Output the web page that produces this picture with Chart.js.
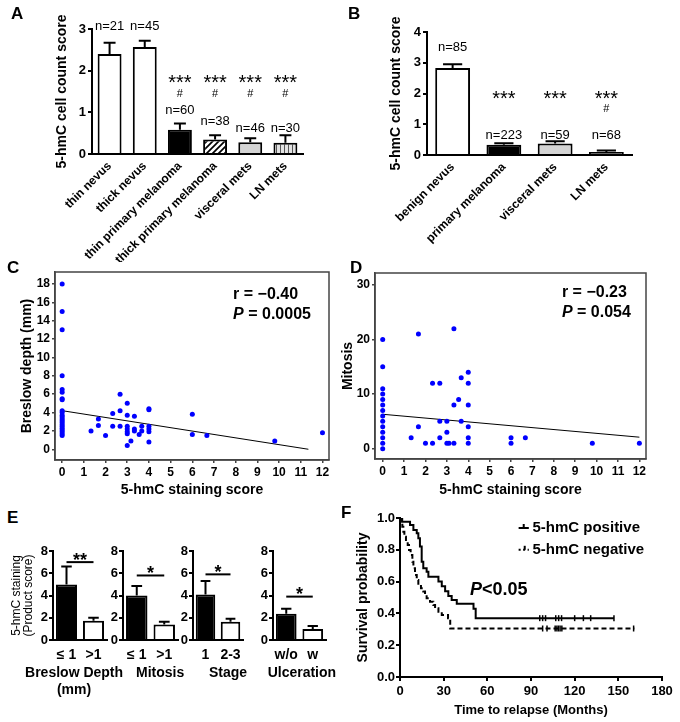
<!DOCTYPE html>
<html>
<head>
<meta charset="utf-8">
<script src="https://cdn.jsdelivr.net/npm/chart.js@4"></script>
<style>
  body { margin: 0; background: #fff; }
  #fig { position: relative; width: 680px; height: 722px; overflow: hidden; font-family: 'Liberation Sans', Arial, sans-serif; }
  .box { position: absolute; }
  .tag { position: absolute; z-index: 5; font-weight: bold; font-size: 17px; line-height: 1; }
</style>
</head>
<body>
<div id="fig">
  <div class="tag" style="left:11px;top:5px">A</div>
  <div class="tag" style="left:348px;top:5px">B</div>
  <div class="tag" style="left:7px;top:259px">C</div>
  <div class="tag" style="left:350px;top:259px">D</div>
  <div class="tag" style="left:7px;top:509px">E</div>
  <div class="tag" style="left:341px;top:504px">F</div>
</div>
<script>
// ─── Data ───────────────────────────────────────────────────────────────────

// A: cell count score by lesion type
const aLabels = ['thin nevus', 'thick nevus', 'thin primary melanoma', 'thick primary melanoma', 'visceral mets', 'LN mets'];
const aMeans  = [2.40, 2.57, 0.58, 0.35, 0.28, 0.27];
const aErrTop = [2.67, 2.72, 0.73, 0.45, 0.38, 0.45];
const aN      = ['n=21', 'n=45', 'n=60', 'n=38', 'n=46', 'n=30'];
const aStars  = ['', '', '***', '***', '***', '***'];
const aHash   = ['', '', '#', '#', '#', '#'];
const aTicks  = [0, 1, 2, 3];

// B: cell count score, pooled
const bLabels = ['benign nevus', 'primary melanoma', 'visceral mets', 'LN mets'];
const bMeans  = [2.83, 0.33, 0.37, 0.10];
const bErrTop = [2.95, 0.38, 0.45, 0.15];
const bN      = ['n=85', 'n=223', 'n=59', 'n=68'];
const bStars  = ['', '***', '***', '***'];
const bHash   = ['', '', '', '#'];
const bTicks  = [0, 1, 2, 3, 4];

// C: staining score vs Breslow depth
const cScore = [0, 0, 0, 0, 0, 0, 0, 0, 0, 0, 0, 0, 0, 0, 0, 0, 0, 0, 0, 0, 0, 0,
  1.33, 1.67, 1.67, 2, 2.33, 2.33, 2.67, 2.67, 2.67,
  3, 3, 3, 3, 3, 3, 3, 3.17, 3.33, 3.33, 3.33, 3.55, 3.67, 3.67,
  4, 4, 4, 4, 4, 4, 6, 6, 6.67, 9.8, 12];
const cBreslow = [18, 15, 13, 8, 6.5, 6.2, 5.5, 5.4, 4.2, 4.0, 3.7, 3.5, 3.3, 3.1, 2.9, 2.7, 2.5, 2.3, 2.1, 1.9, 1.7, 1.5,
  2.0, 3.3, 2.6, 1.5, 3.9, 2.5, 6.0, 4.2, 2.5,
  5.0, 3.7, 2.5, 2.2, 1.9, 1.7, 0.4, 0.9, 3.6, 2.2, 2.0, 1.6, 2.5, 2.0,
  4.4, 4.3, 2.5, 2.2, 1.9, 0.8, 3.8, 1.6, 1.5, 0.9, 1.8];
const cFitX = [0, 11.35];
const cFitY = [4.2, 0];
const cXTicks = [0, 1, 2, 3, 4, 5, 6, 7, 8, 9, 10, 11, 12];
const cYTicks = [0, 2, 4, 6, 8, 10, 12, 14, 16, 18];

// D: staining score vs mitosis
const dScore = [0, 0, 0, 0, 0, 0, 0, 0, 0, 0, 0, 0, 0, 0,
  1.33, 1.67, 1.67, 2, 2.33, 2.33, 2.67, 2.67, 2.67,
  3, 3, 3, 3.1, 3.33, 3.33, 3.33, 3.55, 3.67, 3.67,
  4, 4, 4, 4, 4, 4, 6, 6, 6.67, 9.8, 12];
const dMitosis = [20, 15, 11, 10, 9, 8, 7, 6, 5, 4, 3, 2, 1, 0,
  2, 21, 4, 1, 12, 1, 12, 5, 2,
  5, 3, 1, 1, 22, 8, 1, 9, 13, 5,
  14, 12, 8, 4, 2, 1, 2, 1, 2, 1, 1];
const dFitX = [0, 12];
const dFitY = [6.3, 2.1];
const dYTicks = [0, 10, 20, 30];

// E: product score by clinical group
const eGroups  = [['Breslow Depth', '(mm)'], ['Mitosis'], ['Stage'], ['Ulceration']];
const eCats    = [['≤ 1', '>1'], ['≤ 1', '>1'], ['1', '2-3'], ['w/o', 'w']];
const eMeans   = [[5.0, 1.72], [4.0, 1.4], [4.1, 1.65], [2.35, 1.0]];
const eErrTop  = [[6.6, 2.0], [4.85, 1.65], [5.3, 1.9], [2.8, 1.25]];
const eSig     = ['**', '*', '*', '*'];
const eSigY    = [7.0, 5.8, 5.9, 3.9];
const eTicks   = [0, 2, 4, 6, 8];

// F: Kaplan-Meier, time to relapse
const posTime = [0, 1.5, 6.9, 9.2, 11.5, 12.6, 13.7, 14.9, 16, 18.3, 19.5, 26.4, 28.7, 31, 33.2, 35.5, 39, 50.5, 52, 147];
const posSurv = [1.0, 0.977, 0.956, 0.925, 0.904, 0.872, 0.82, 0.725, 0.684, 0.662, 0.631, 0.60, 0.57, 0.54, 0.51, 0.485, 0.46, 0.43, 0.37, 0.37];
const posCensor = [96, 98, 100, 107, 109, 111, 120, 126, 131, 147];
const negTime = [0, 0.8, 1.6, 2.3, 3.0, 4.1, 5.3, 6.2, 7.3, 8.5, 9.2, 10.3, 11.5, 12.6, 14.4, 16.0, 17.2, 18.3, 20.6, 22.9, 24.1, 26.4, 28.7, 33, 34.5, 161];
const negSurv = [1.0, 0.977, 0.945, 0.914, 0.882, 0.851, 0.83, 0.799, 0.767, 0.725, 0.684, 0.642, 0.61, 0.579, 0.558, 0.537, 0.516, 0.495, 0.474, 0.453, 0.432, 0.411, 0.39, 0.37, 0.305, 0.305];
const negCensor = [98, 101, 106.6, 107.8, 108.9, 110, 111.2, 160.5];
const fXTicks = [0, 30, 60, 90, 120, 150, 180];
const fYTicks = [0, 0.2, 0.4, 0.6, 0.8, 1.0];

// ─── Setup ──────────────────────────────────────────────────────────────────

const FONT = "'Liberation Sans', Arial, sans-serif";
Chart.defaults.font.family = FONT;
Chart.defaults.color = '#000';
Chart.defaults.plugins.legend.display = false;
Chart.defaults.plugins.tooltip.enabled = false;
Chart.defaults.animation = false;
Chart.defaults.responsive = false;

const fig = document.getElementById('fig');

// canvas box so that the chart area lands on rect [x0, y0, x1, y1]
function mount(rect, m) {
  const box = document.createElement('div');
  box.className = 'box';
  const w = rect[2] - rect[0] + m.l + m.r;
  const h = rect[3] - rect[1] + m.t + m.b;
  box.style.left = (rect[0] - m.l) + 'px';
  box.style.top = (rect[1] - m.t) + 'px';
  const cv = document.createElement('canvas');
  cv.width = w; cv.height = h;
  cv.style.width = w + 'px'; cv.style.height = h + 'px';
  box.appendChild(cv);
  fig.appendChild(box);
  return cv;
}

function fixLayout(opts, m) {
  opts.layout = { padding: { top: m.t, right: m.r, left: 0, bottom: 0 } };
  opts.scales.x.afterFit = s => { s.height = m.b; };
  opts.scales.y.afterFit = s => { s.width = m.l; };
  return opts;
}

const fixedTicks = vals => s => { s.ticks = vals.map(v => ({ value: v })); };

function valueAxis(min, max, vals, size, extra) {
  return Object.assign({
    type: 'linear', min, max,
    afterBuildTicks: fixedTicks(vals),
    grid: { drawOnChartArea: false, drawTicks: true, tickLength: 4, color: '#000', lineWidth: 2 },
    border: { display: true, color: '#000', width: 2 },
    ticks: { font: { size, weight: 'bold' }, padding: 2 },
  }, extra || {});
}

function axisTitle(text, size, pad, weight) {
  return { display: true, text, color: '#000', font: { size, weight: weight || 'bold' }, padding: pad };
}

// ─── Plugins ────────────────────────────────────────────────────────────────

function errBars(tops, capFrac, lw) {
  return {
    id: 'errbars',
    afterDatasetsDraw(chart) {
      const { ctx, scales: { y } } = chart;
      const meta = chart.getDatasetMeta(0);
      ctx.save();
      ctx.strokeStyle = '#000';
      ctx.lineWidth = lw;
      meta.data.forEach((bar, i) => {
        const yt = y.getPixelForValue(tops[i]);
        const half = bar.width * capFrac / 2;
        ctx.beginPath();
        ctx.moveTo(bar.x, bar.y);
        ctx.lineTo(bar.x, yt);
        ctx.moveTo(bar.x - half, yt);
        ctx.lineTo(bar.x + half, yt);
        ctx.stroke();
      });
      ctx.restore();
    },
  };
}

// text notes anchored in data units
function notes(list) {
  return {
    id: 'notes',
    afterDraw(chart) {
      const { ctx, scales: { x, y } } = chart;
      ctx.save();
      ctx.fillStyle = '#000';
      ctx.textAlign = 'left';
      list.forEach(n => {
        const parts = n.parts || [[n.text, n.weight || 'normal']];
        const fonts = parts.map(p => `${p[1]} ${n.size}px ${FONT}`);
        const widths = parts.map((p, i) => { ctx.font = fonts[i]; return ctx.measureText(p[0]).width; });
        const total = widths.reduce((a, b) => a + b, 0);
        let px = x.getPixelForValue(n.x);
        let py = y.getPixelForValue(n.y);
        if (n.star) { ctx.textBaseline = 'alphabetic'; py += n.size * 0.55; }
        else ctx.textBaseline = 'middle';
        let cx = n.align === 'left' ? px : px - total / 2;
        parts.forEach((p, i) => { ctx.font = fonts[i]; ctx.fillText(p[0], cx, py); cx += widths[i]; });
      });
      ctx.restore();
    },
  };
}

const frame = {
  id: 'frame',
  afterDraw(chart) {
    const { ctx, chartArea: a } = chart;
    ctx.save();
    ctx.strokeStyle = '#444';
    ctx.lineWidth = 1.5;
    ctx.strokeRect(a.left, a.top, a.right - a.left, a.bottom - a.top);
    ctx.restore();
  },
};

// ─── Fill patterns ──────────────────────────────────────────────────────────

function pattern(size, draw) {
  const c = document.createElement('canvas');
  c.width = size; c.height = size;
  const g = c.getContext('2d');
  draw(g, size);
  return g.createPattern(c, 'repeat');
}

const hatch = pattern(6, (g, s) => {
  g.fillStyle = '#fff'; g.fillRect(0, 0, s, s);
  g.strokeStyle = '#000'; g.lineWidth = 1.7;
  g.beginPath();
  g.moveTo(0, s); g.lineTo(s, 0);
  g.moveTo(-s / 2, s / 2); g.lineTo(s / 2, -s / 2);
  g.moveTo(s / 2, s * 1.5); g.lineTo(s * 1.5, s / 2);
  g.stroke();
});
const stripes = pattern(4, (g, s) => {
  g.fillStyle = '#e2e2e2'; g.fillRect(0, 0, s, s);
  g.fillStyle = '#555'; g.fillRect(0, 0, 1, s);
});
const dots = pattern(3, (g, s) => {
  g.fillStyle = '#666'; g.fillRect(0, 0, s, s);
  g.fillStyle = '#bbb'; g.fillRect(1, 1, 1, 1);
});

// ─── Panel A ────────────────────────────────────────────────────────────────

const aNY = [3.05, 3.05, 1.05, 0.77, 0.62, 0.62];
const aNotes = [];
aLabels.forEach((_, i) => {
  aNotes.push({ text: aN[i], x: i, y: aNY[i], size: 13 });
  if (aStars[i]) aNotes.push({ text: aStars[i], x: i, y: 1.82, size: 20, star: true });
  if (aHash[i]) aNotes.push({ text: aHash[i], x: i, y: 1.44, size: 11 });
});

const mA = { l: 92, t: 29, r: 20, b: 108 };
new Chart(mount([92, 29, 303, 154], mA), {
  type: 'bar',
  data: {
    labels: aLabels,
    datasets: [{
      data: aMeans,
      backgroundColor: ['#fff', '#fff', '#000', hatch, '#d4d4d4', stripes],
      borderColor: '#000', borderWidth: 2,
      categoryPercentage: 1, barPercentage: 0.68,
    }],
  },
  plugins: [errBars(aErrTop, 0.5, 2), notes(aNotes)],
  options: fixLayout({
    scales: {
      x: {
        grid: { display: false, drawTicks: false },
        border: { display: true, color: '#000', width: 2 },
        ticks: { font: { size: 12, weight: 'bold' }, minRotation: 45, maxRotation: 45, autoSkip: false, padding: 5 },
      },
      y: valueAxis(0, 3, aTicks, 13, { title: axisTitle('5-hmC cell count score', 14, { top: 53.6, bottom: 0 }) }),
    },
  }, mA),
});

// ─── Panel B ────────────────────────────────────────────────────────────────

const bNotes = [];
bLabels.forEach((_, i) => {
  bNotes.push({ text: bN[i], x: i, y: i === 0 ? 3.5 : 0.65, size: 13 });
  if (bStars[i]) bNotes.push({ text: bStars[i], x: i, y: 2.0, size: 20, star: true });
  if (bHash[i]) bNotes.push({ text: bHash[i], x: i, y: 1.5, size: 11 });
});

const mB = { l: 87, t: 32, r: 40, b: 100 };
new Chart(mount([427, 32, 632, 155], mB), {
  type: 'bar',
  data: {
    labels: bLabels,
    datasets: [{
      data: bMeans,
      backgroundColor: ['#fff', '#000', '#d4d4d4', dots],
      borderColor: '#000', borderWidth: 2,
      categoryPercentage: 1, barPercentage: 0.68,
    }],
  },
  plugins: [errBars(bErrTop, 0.55, 2), notes(bNotes)],
  options: fixLayout({
    scales: {
      x: {
        grid: { display: false, drawTicks: false },
        border: { display: true, color: '#000', width: 2 },
        ticks: { font: { size: 12, weight: 'bold' }, minRotation: 45, maxRotation: 45, autoSkip: false, padding: 5 },
      },
      y: valueAxis(0, 4, bTicks, 13, { title: axisTitle('5-hmC cell count score', 14, { top: 47.6, bottom: 0 }) }),
    },
  }, mB),
});

// ─── Panels C and D ─────────────────────────────────────────────────────────

function scatterAxis(min, max, vals, extra) {
  return Object.assign({
    type: 'linear', min, max,
    afterBuildTicks: fixedTicks(vals),
    grid: { drawOnChartArea: false, drawTicks: true, tickLength: 3, color: '#444', lineWidth: 1.5 },
    border: { display: true, color: '#444', width: 1.5 },
    ticks: { font: { size: 12, weight: 'bold' }, padding: 2 },
  }, extra);
}

function scatterPanel(rect, m, xs, ys, fitX, fitY, xr, yr, yTicks, yTitle, yPad, lines) {
  new Chart(mount(rect, m), {
    type: 'scatter',
    data: {
      datasets: [
        { data: xs.map((x, i) => ({ x, y: ys[i] })), backgroundColor: '#0000ff', pointRadius: 2.5, borderWidth: 0 },
        { data: fitX.map((x, i) => ({ x, y: fitY[i] })), showLine: true, borderColor: '#000', borderWidth: 1, pointRadius: 0 },
      ],
    },
    plugins: [frame, notes(lines)],
    options: fixLayout({
      scales: {
        x: scatterAxis(xr[0], xr[1], cXTicks, { title: axisTitle('5-hmC staining score', 14, { top: 0, bottom: 1.6 }) }),
        y: scatterAxis(yr[0], yr[1], yTicks, { title: axisTitle(yTitle, 14, { top: yPad, bottom: 0 }) }),
      },
    }, m),
  });
}

scatterPanel([55, 272, 329, 460], { l: 55, t: 14, r: 9, b: 40 }, cScore, cBreslow, cFitX, cFitY,
  [-0.33, 12.3], [-1.17, 19.3], cYTicks, 'Breslow depth (mm)', 18.6, [
    { parts: [['r = −0.40', 'bold']], x: 7.88, y: 16.8, size: 16, align: 'left' },
    { parts: [['P', 'italic bold'], [' = 0.0005', 'bold']], x: 7.88, y: 14.65, size: 16, align: 'left' },
  ]);

scatterPanel([375, 273, 646, 459], { l: 35, t: 15, r: 34, b: 41 }, dScore, dMitosis, dFitX, dFitY,
  [-0.36, 12.31], [-1.9, 32.2], dYTicks, 'Mitosis', 0, [
    { parts: [['r = −0.23', 'bold']], x: 8.38, y: 28.6, size: 16, align: 'left' },
    { parts: [['P', 'italic bold'], [' = 0.054', 'bold']], x: 8.38, y: 25.0, size: 16, align: 'left' },
  ]);

// ─── Panel E ────────────────────────────────────────────────────────────────

function sigLine(yv, lw) {
  return {
    id: 'sig',
    afterDatasetsDraw(chart) {
      const { ctx, scales: { x, y } } = chart;
      const py = y.getPixelForValue(yv);
      ctx.save();
      ctx.strokeStyle = '#000';
      ctx.lineWidth = lw;
      ctx.beginPath();
      ctx.moveTo(x.getPixelForValue(0), py);
      ctx.lineTo(x.getPixelForValue(1), py);
      ctx.stroke();
      ctx.restore();
    },
  };
}

const eRects = [[53, 551, 107, 640], [123, 551, 178, 640], [193, 551, 243, 640], [273, 551, 326, 640]];
const eTitleX = [0.28, 0.85, 0.9, 0.59];   // group title anchor, category units
eGroups.forEach((grp, i) => {
  const m = { l: i === 0 ? 53 : 45, t: 11, r: 30, b: 65 };
  const yExtra = i === 0
    ? { title: { display: true, text: ['5-hmC staining', '(Product score)'], color: '#000', font: { size: 12, lineHeight: 1 }, padding: { top: 11, bottom: 0 } } }
    : {};
  const yAxis = valueAxis(0, 8, eTicks, 13, yExtra);
  yAxis.ticks.padding = 1;
  const eNotes = [{ text: eSig[i], x: 0.5, y: eSigY[i] + 0.55, size: 18, weight: 'bold', star: true }];
  grp.forEach((line, k) => eNotes.push({ parts: [[line, 'bold']], x: eTitleX[i], y: -2.97 - 1.52 * k, size: 14 }));
  new Chart(mount(eRects[i], m), {
    type: 'bar',
    data: {
      labels: eCats[i],
      datasets: [{
        data: eMeans[i],
        backgroundColor: ['#000', '#fff'],
        borderColor: '#000', borderWidth: 2,
        categoryPercentage: 1, barPercentage: 0.78,
      }],
    },
    plugins: [errBars(eErrTop[i], 0.5, 2), sigLine(eSigY[i], 2), notes(eNotes)],
    options: fixLayout({
      scales: {
        x: {
          grid: { display: false, drawTicks: false },
          border: { display: true, color: '#000', width: 2 },
          ticks: { font: { size: 14, weight: 'bold' }, padding: 6.5, minRotation: 0, maxRotation: 0, autoSkip: false },
        },
        y: yAxis,
      },
    }, m),
  });
});

// ─── Panel F ────────────────────────────────────────────────────────────────

const kmLegend = {
  id: 'kmlegend',
  afterDraw(chart) {
    const { ctx, scales: { x, y } } = chart;
    ctx.save();
    ctx.strokeStyle = '#000';
    ctx.lineWidth = 2;
    const x0 = x.getPixelForValue(81.5), x1 = x.getPixelForValue(88.5), xm = (x0 + x1) / 2;
    const y0 = y.getPixelForValue(0.937), y1 = y.getPixelForValue(0.8);
    ctx.beginPath();
    ctx.moveTo(x0, y0); ctx.lineTo(x1, y0);
    ctx.moveTo(xm, y0); ctx.lineTo(xm, y0 - 4);
    ctx.stroke();
    ctx.setLineDash([2, 2.5]);
    ctx.beginPath();
    ctx.moveTo(x0, y1); ctx.lineTo(x1, y1);
    ctx.stroke();
    ctx.setLineDash([]);
    ctx.beginPath();
    ctx.moveTo(xm + 1, y1); ctx.lineTo(xm + 1, y1 - 4);
    ctx.stroke();
    ctx.restore();
  },
};

const mF = { l: 60, t: 18, r: 18, b: 45 };
new Chart(mount([400, 518, 662, 677], mF), {
  type: 'scatter',
  data: {
    datasets: [
      { data: posTime.map((t, i) => ({ x: t, y: posSurv[i] })), showLine: true, stepped: true, borderColor: '#000', borderWidth: 2, pointRadius: 0 },
      { data: negTime.map((t, i) => ({ x: t, y: negSurv[i] })), showLine: true, stepped: true, borderColor: '#000', borderWidth: 2, borderDash: [5, 3], pointRadius: 0 },
      { data: posCensor.map(t => ({ x: t, y: 0.37 })), pointStyle: 'line', rotation: 90, pointRadius: 3, borderColor: '#000', borderWidth: 1.5 },
      { data: negCensor.map(t => ({ x: t, y: 0.305 })), pointStyle: 'line', rotation: 90, pointRadius: 3, borderColor: '#000', borderWidth: 1.5 },
    ],
  },
  plugins: [kmLegend, notes([
    { parts: [['5-hmC positive', 'bold']], x: 91, y: 0.937, size: 15, align: 'left' },
    { parts: [['5-hmC negative', 'bold']], x: 91, y: 0.8, size: 15, align: 'left' },
    { parts: [['P', 'italic bold'], ['<0.05', 'bold']], x: 48.1, y: 0.547, size: 18, align: 'left' },
  ])],
  options: fixLayout({
    scales: {
      x: valueAxis(0, 180, fXTicks, 13, {
        ticks: { font: { size: 13, weight: 'bold' }, padding: 3 },
        title: axisTitle('Time to relapse (Months)', 13, { top: 0, bottom: 4.2 }),
      }),
      y: valueAxis(0, 1, fYTicks, 13, {
        ticks: { font: { size: 13, weight: 'bold' }, padding: 1, callback: v => v.toFixed(1) },
        title: axisTitle('Survival probability', 14, { top: 14.6, bottom: 0 }),
      }),
    },
  }, mF),
});
</script>
</body>
</html>
